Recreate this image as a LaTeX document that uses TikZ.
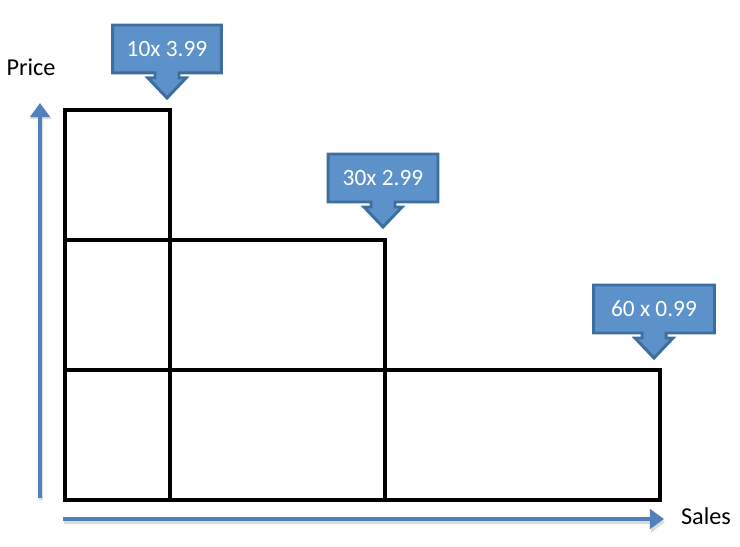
\documentclass[tikz,border=0pt]{standalone}
\usepackage{fontspec}
\setmainfont{Carlito}
\usetikzlibrary{arrows.meta, backgrounds, calc}
\definecolor{axisblue}{RGB}{79, 129, 189}
\definecolor{tagfill}{RGB}{93, 145, 201}
\definecolor{tagedge}{RGB}{62, 110, 158}
\tikzset{
    cell/.style={draw=black, line width=2pt},
    axisline/.style={draw=axisblue, line width=2pt,
        -{Triangle[length=8pt, width=11pt]}},
    axisshadow/.style={draw=black!14, line width=2.6pt,
        -{Triangle[length=8pt, width=12pt]}},
    axislabel/.style={font=\fontsize{13.8}{16}\selectfont, inner sep=1pt},
    tagtext/.style={text=white, font=\fontsize{13.3}{15}\selectfont,
        minimum height=.96cm, inner sep=0pt, outer sep=0pt},
    tagshape/.style={fill=tagfill, draw=tagedge, line width=1.7pt,
        line join=miter},
}

\begin{document}
\begin{tikzpicture}[x=.02cm, y=-.02cm]
    \useasboundingbox (0, 0) rectangle (740, 547);

    % axes
    \coordinate (ybottom) at (40, 498);
    \coordinate (ytop) at (40, 103);
    \coordinate (xleft) at (63, 519);
    \coordinate (xright) at (664, 519);
    \draw[axisshadow] ($(ybottom)+(1,2)$) -- ($(ytop)+(1,2)$);
    \draw[axisshadow] ($(xleft)+(1,3)$) -- ($(xright)+(1,3)$);
    \draw[axisline] (ybottom) -- (ytop);
    \draw[axisline] (xleft) -- (xright);
    \node[axislabel] (price) at (31, 67) {Price};
    \node[axislabel] (sales) at (706, 516) {Sales};

    % revenue blocks
    \foreach \xa/\xb/\ya/\yb in {65/170/110/240, 65/170/240/370,
            65/170/370/500, 170/385/240/370, 170/385/370/500,
            385/660/370/500}{
        \draw[cell] (\xa, \ya) rectangle (\xb, \yb);
    }

    % callouts
    \foreach \name/\cx/\cy/\tagwd/\txt in {tagA/167/49/2.18/10x 3.99,
            tagB/383/178/2.2/30x 2.99, tagC/654/309/2.42/60 x 0.99}{
        \node[tagtext, minimum width=\tagwd cm] (\name) at (\cx, \cy) {\txt};
        \begin{scope}[on background layer]
            \draw[tagshape] (\name.north west) -- (\name.north east)
                -- (\name.south east) -- ($(\name.south)+(12, 0)$)
                -- ++(0, 5) -- ++(7, 0) -- ($(\name.south)+(0, 25)$)
                -- ($(\name.south)+(-19, 5)$) -- ++(7, 0)
                -- ($(\name.south)+(-12, 0)$) -- (\name.south west)
                -- cycle;
        \end{scope}
    }
\end{tikzpicture}
\end{document}
